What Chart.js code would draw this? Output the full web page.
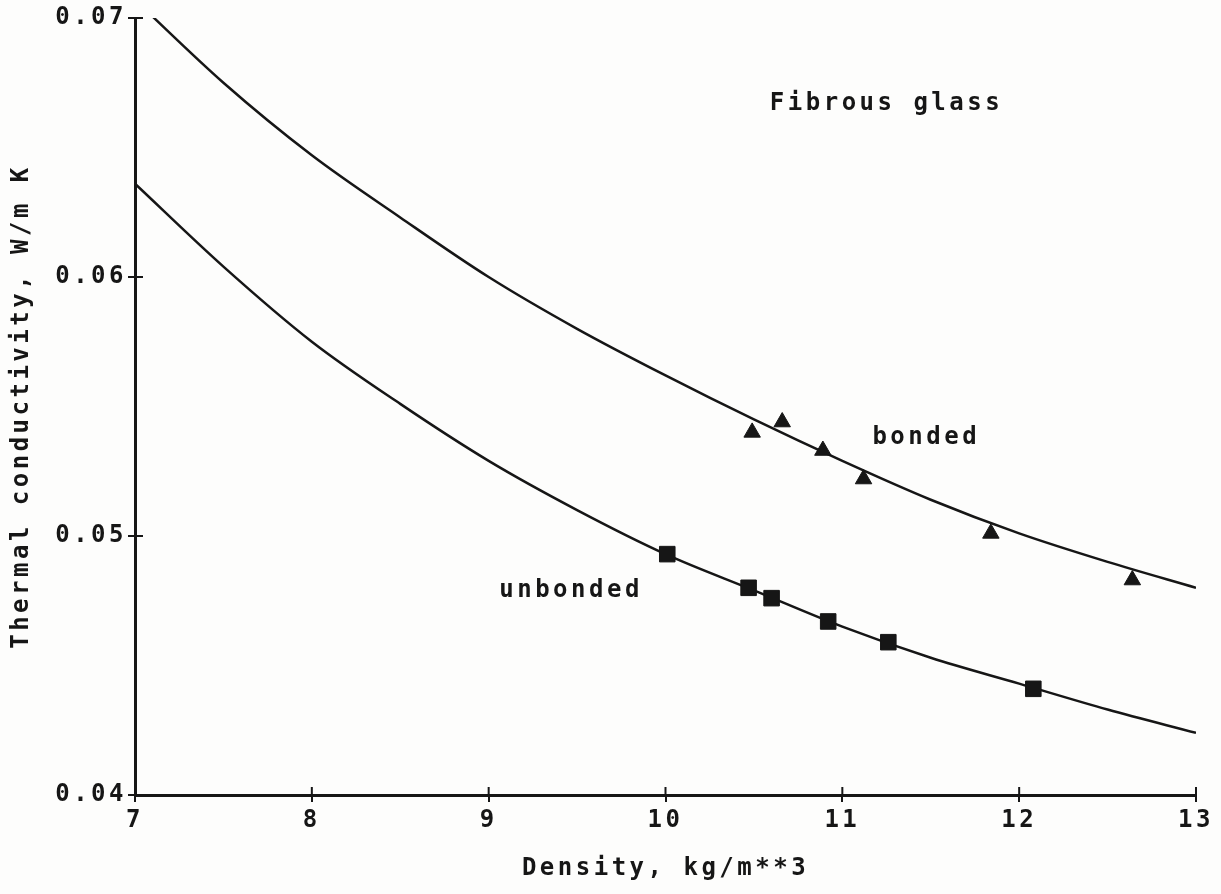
<!DOCTYPE html>
<html>
<head>
<meta charset="utf-8">
<script src="https://cdn.jsdelivr.net/npm/chart.js@4"></script>
<style>
  html, body { margin: 0; padding: 0; background: #fdfdfc; }
  #wrap { width: 1221px; height: 894px; position: relative; }
</style>
</head>
<body>
<div id="wrap"><canvas id="kChart"></canvas></div>
<script>
// fitted curves, every 0.5 kg/m3
const fitDensity = [7, 7.5, 8, 8.5, 9, 9.5, 10, 10.5, 11, 11.5, 12, 12.5, 13];
const bondedFit = [0.0707, 0.0675, 0.0647, 0.0623, 0.0600, 0.0580, 0.0562, 0.0545, 0.0529, 0.0514, 0.0501, 0.0490, 0.0480];
const unbondedFit = [0.0636, 0.0604, 0.0575, 0.0551, 0.0529, 0.0510, 0.0493, 0.0479, 0.0465, 0.0453, 0.0443, 0.0433, 0.0424];

// measured points
const bondedDensity = [10.49, 10.66, 10.89, 11.12, 11.84, 12.64];
const bondedK = [0.0540, 0.0544, 0.0533, 0.0522, 0.0501, 0.0483];
const unbondedDensity = [10.01, 10.47, 10.60, 10.92, 11.26, 12.08];
const unbondedK = [0.0493, 0.0480, 0.0476, 0.0467, 0.0459, 0.0441];

const xTicks = [7, 8, 9, 10, 11, 12, 13];
const yTicks = [0.04, 0.05, 0.06, 0.07];

const notes = [
    { text: 'Fibrous glass', x: 10.59, y: 0.0667 },
    { text: 'bonded', x: 11.17, y: 0.0538 },
    { text: 'unbonded', x: 9.06, y: 0.0479 }
];

const INK = '#161616';
const FONT = 'DejaVu Sans Mono';
const SIZE = 24;
const SPACING = '3.5px';

const toXY = (xs, ys) => xs.map((x, i) => ({ x, y: ys[i] }));

// plotter look: wide letter spacing, ticks crossing the axes, free text notes
const plotterStyle = {
    id: 'plotterStyle',
    beforeDraw(chart) {
        chart.ctx.letterSpacing = SPACING;
    },
    afterDraw(chart) {
        const { ctx, scales: { x, y } } = chart;
        ctx.save();
        ctx.strokeStyle = INK;
        ctx.lineWidth = 2;
        ctx.beginPath();
        xTicks.forEach(v => {
            const px = x.getPixelForValue(v);
            ctx.moveTo(px, y.bottom);
            ctx.lineTo(px, y.bottom - 8);
        });
        yTicks.forEach(v => {
            const py = y.getPixelForValue(v);
            ctx.moveTo(x.left, py);
            ctx.lineTo(x.left + 8, py);
        });
        ctx.stroke();

        ctx.letterSpacing = SPACING;
        ctx.fillStyle = INK;
        ctx.font = 'bold ' + SIZE + 'px "' + FONT + '"';
        ctx.textAlign = 'left';
        ctx.textBaseline = 'middle';
        notes.forEach(n => {
            ctx.fillText(n.text, x.getPixelForValue(n.x), y.getPixelForValue(n.y));
        });
        ctx.restore();
    }
};

const axisFont = { family: FONT, size: SIZE, weight: 'bold' };

new Chart(document.getElementById('kChart'), {
    type: 'line',
    data: {
        datasets: [
            {
                label: 'bonded points',
                data: toXY(bondedDensity, bondedK),
                showLine: false,
                pointStyle: 'triangle',
                pointRadius: 9.5,
                backgroundColor: INK,
                borderColor: INK,
                borderWidth: 1
            },
            {
                label: 'unbonded points',
                data: toXY(unbondedDensity, unbondedK),
                showLine: false,
                pointStyle: 'rect',
                pointRadius: 11,
                backgroundColor: INK,
                borderColor: INK,
                borderWidth: 1
            },
            {
                label: 'bonded',
                data: toXY(fitDensity, bondedFit),
                borderColor: INK,
                borderWidth: 2.5,
                pointRadius: 0,
                cubicInterpolationMode: 'monotone',
                fill: false
            },
            {
                label: 'unbonded',
                data: toXY(fitDensity, unbondedFit),
                borderColor: INK,
                borderWidth: 2.5,
                pointRadius: 0,
                cubicInterpolationMode: 'monotone',
                fill: false
            }
        ]
    },
    options: {
        responsive: true,
        maintainAspectRatio: false,
        animation: false,
        layout: { padding: { left: 0, top: 18, right: 25, bottom: 11 } },
        plugins: {
            legend: { display: false },
            tooltip: { enabled: false }
        },
        scales: {
            x: {
                type: 'linear',
                min: 7,
                max: 13,
                afterFit: s => { s.height = 88; },
                afterBuildTicks: s => { s.ticks = xTicks.map(v => ({ value: v })); },
                border: { display: true, color: INK, width: 3 },
                grid: { drawOnChartArea: false, color: INK, lineWidth: 2, tickLength: 7 },
                ticks: {
                    color: INK,
                    padding: 4,
                    maxRotation: 0,
                    font: axisFont
                },
                title: {
                    display: true,
                    text: 'Density, kg/m**3',
                    color: INK,
                    padding: { top: 0, bottom: 0 },
                    font: axisFont
                }
            },
            y: {
                min: 0.04,
                max: 0.07,
                afterFit: s => { s.width = 135; },
                afterBuildTicks: s => { s.ticks = yTicks.map(v => ({ value: v })); },
                border: { display: true, color: INK, width: 3 },
                grid: { drawOnChartArea: false, color: INK, lineWidth: 2, tickLength: 7 },
                ticks: {
                    color: INK,
                    padding: 1,
                    font: axisFont,
                    callback: v => v.toFixed(2)
                },
                title: {
                    display: true,
                    text: 'Thermal conductivity, W/m K',
                    color: INK,
                    padding: { top: 7, bottom: 0 },
                    font: axisFont
                }
            }
        }
    },
    plugins: [plotterStyle]
});
</script>
</body>
</html>
